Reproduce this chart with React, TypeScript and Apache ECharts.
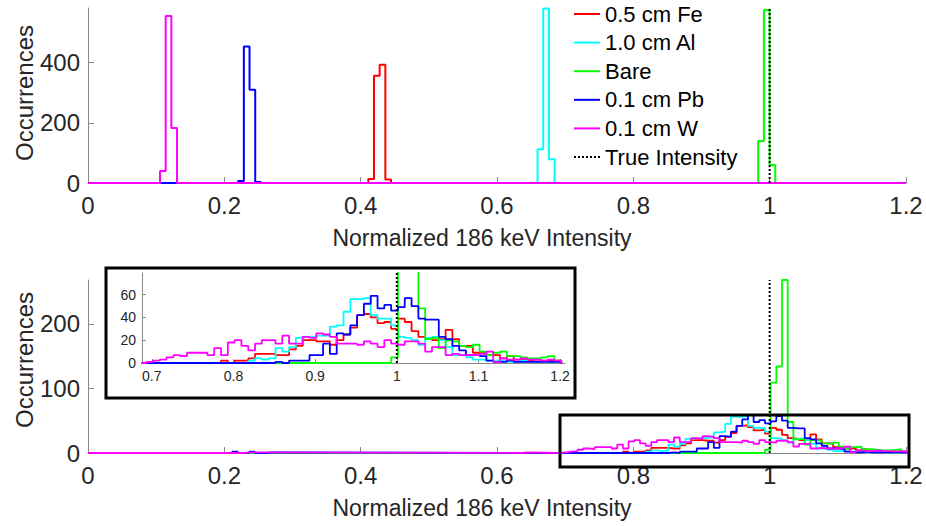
import React, { useEffect, useRef } from "react";
import * as echarts from "echarts";

const FONT = "'Liberation Sans', Arial, Helvetica, sans-serif";

const seriesNames = ["0.5 cm Fe", "1.0 cm Al", "Bare", "0.1 cm Pb", "0.1 cm W"];
const seriesColors = ["#ff0000", "#00ffff", "#00ff00", "#0000ff", "#ff00ff"];
const trueName = "True Intensity";
const trueValue = 1;

const binWidth = 1 / 120;
const xTicks = [0, 0.2, 0.4, 0.6, 0.8, 1, 1.2];
const topYTicks = [0, 200, 400];
const bottomYTicks = [0, 100, 200];
const insetXTicks = [0.7, 0.8, 0.9, 1, 1.1, 1.2];
const insetYTicks = [0, 20, 40, 60];

// Top panel: first bin edge + counts of each narrow histogram
const topFeStart = 0.4112;
const topFeCounts = [13, 357, 393, 12];
const topAlStart = 0.6595;
const topAlCounts = [112, 580, 79];
const topBareStart = 0.9832;
const topBareCounts = [140, 575, 60];
const topPbStart = 0.2203;
const topPbCounts = [7, 454, 310, 3];
const topWStart = 0.1056;
const topWCounts = [40, 555, 183];

// Bottom panel: shared first bin edge, 61 bins
const bottomStart = 0.6931;
const bottomFeCounts = [
  0, 0, 0, 0, 0, 0, 0, 0, 0, 0, 0, 2, 0, 2, 2, 4, 8, 8, 8, 7, 7,
  12, 15, 20, 20, 19, 19, 16, 20, 25, 31, 42, 43, 40, 35, 36, 30, 39, 36, 28, 23,
  22, 20, 21, 29, 21, 15, 15, 9, 9, 7, 7, 4, 6, 3, 3, 2, 3, 2, 2, 2,
];
const bottomAlCounts = [
  0, 0, 0, 0, 0, 0, 0, 0, 0, 0, 0, 0, 0, 0, 0, 2, 4, 3, 4, 13, 10,
  14, 22, 23, 23, 24, 24, 32, 33, 45, 56, 56, 57, 42, 39, 39, 33, 23, 22, 20, 16,
  22, 23, 20, 14, 7, 7, 5, 3, 3, 2, 2, 2, 1, 1, 2, 1, 1, 1, 1, 1,
];
const bottomBareCounts = [
  0, 0, 0, 0, 0, 0, 0, 0, 0, 0, 0, 0, 0, 0, 0, 0, 0, 0, 0, 0, 0,
  0, 0, 0, 0, 0, 0, 0, 0, 0, 0, 0, 0, 0, 0, 0, 5, 109, 134, 268, 48,
  21, 22, 13, 20, 19, 15, 14, 16, 10, 7, 9, 10, 6, 6, 5, 4, 4, 5, 6, 2,
];
const bottomPbCounts = [
  0, 0, 0, 0, 0, 0, 0, 0, 0, 0, 0, 0, 0, 0, 0, 0, 0, 0, 0, 1, 0,
  2, 2, 2, 7, 7, 17, 8, 26, 25, 33, 42, 52, 59, 48, 51, 46, 49, 57, 50, 39,
  38, 38, 23, 21, 15, 11, 7, 7, 6, 2, 1, 1, 2, 1, 1, 1, 1, 1, 1, 1,
];
const bottomWCounts = [
  1, 2, 3, 5, 7, 6, 9, 9, 9, 7, 13, 7, 18, 20, 15, 11, 17, 20, 20, 17, 24,
  17, 17, 23, 22, 26, 25, 23, 17, 17, 17, 16, 19, 17, 14, 20, 17, 16, 19, 19, 17,
  10, 14, 14, 7, 8, 7, 7, 7, 8, 10, 1, 4, 3, 3, 4, 3, 3, 2, 3, 2,
];
// isolated low-intensity bins (bin start, count)
const bottomPbOutliers: [number, number][] = [[0.2115, 2], [0.2365, 2], [0.2615, 1]];
const bottomWOutliers: [number, number][] = [[0.2282, 1], [0.6365, 1]];

function stairs(runs: { start: number; counts: number[] }[], xmin: number, xmax: number) {
  const pts: number[][] = [[xmin, 0]];
  const sorted = [...runs].sort((a, b) => a.start - b.start);
  for (const r of sorted) {
    let e = r.start;
    pts.push([e, 0]);
    for (const c of r.counts) {
      pts.push([e, c]);
      e += binWidth;
      pts.push([e, c]);
    }
    pts.push([e, 0]);
  }
  pts.push([xmax, 0]);
  return pts;
}

const topRuns = [
  [{ start: topFeStart, counts: topFeCounts }],
  [{ start: topAlStart, counts: topAlCounts }],
  [{ start: topBareStart, counts: topBareCounts }],
  [{ start: topPbStart, counts: topPbCounts }],
  [{ start: topWStart, counts: topWCounts }],
];
const bottomRuns = [
  [{ start: bottomStart, counts: bottomFeCounts }],
  [{ start: bottomStart, counts: bottomAlCounts }],
  [{ start: bottomStart, counts: bottomBareCounts }],
  [
    { start: bottomStart, counts: bottomPbCounts },
    ...bottomPbOutliers.map(([s, c]) => ({ start: s, counts: [c] })),
  ],
  [
    { start: bottomStart, counts: bottomWCounts },
    ...bottomWOutliers.map(([s, c]) => ({ start: s, counts: [c] })),
  ],
];

const axisGray = "#8a8a8a";
const labelColor = "#262626";

function xAxisMain(gridIndex: number) {
  return {
    type: "value",
    gridIndex,
    min: 0,
    max: 1.2,
    interval: 0.2,
    name: "Normalized 186 keV Intensity",
    nameLocation: "middle",
    nameGap: 43,
    nameTextStyle: { fontSize: 23, color: labelColor, fontFamily: FONT, padding: [0, 30, 0, 0] },
    axisLine: { show: true, onZero: false, lineStyle: { color: axisGray, width: 1 } },
    axisTick: { show: true, inside: true, length: 6, lineStyle: { color: axisGray }, customValues: xTicks },
    axisLabel: { fontSize: 24, color: labelColor, fontFamily: FONT, margin: 10, customValues: xTicks },
    splitLine: { show: false },
  };
}
function yAxisMain(gridIndex: number, max: number, ticks: number[]) {
  return {
    type: "value",
    gridIndex,
    min: 0,
    max,
    axisLine: { show: true, onZero: false, lineStyle: { color: axisGray, width: 1 } },
    axisTick: { show: true, inside: true, length: 6, lineStyle: { color: axisGray }, customValues: ticks },
    axisLabel: { fontSize: 24, color: labelColor, fontFamily: FONT, margin: 8, customValues: ticks },
    splitLine: { show: false },
  };
}

export default function App() {
  const ref = useRef<HTMLDivElement>(null);
  useEffect(() => {
    if (!ref.current) return;
    const chart = echarts.init(ref.current, undefined, { renderer: "svg" });
    const topMax = 582;
    const bottomMax = 268;
    const insetMax = 79;
    const insetMin = 0.688;
    const insetXMax = 1.206;

    const series: any[] = [];
    const addPanel = (runsList: any[], xi: number, yMax: number, xmin: number, xmax: number, lw: number) => {
      runsList.forEach((runs, i) => {
        series.push({
          type: "line",
          name: seriesNames[i],
          xAxisIndex: xi,
          yAxisIndex: xi,
          data: stairs(runs, xmin, xmax),
          showSymbol: false,
          symbol: "none",
          clip: true,
          color: seriesColors[i],
          lineStyle: { color: seriesColors[i], width: lw },
          silent: true,
        });
      });
      series.push({
        type: "line",
        name: trueName,
        xAxisIndex: xi,
        yAxisIndex: xi,
        data: [[trueValue, 0], [trueValue, yMax]],
        symbol: "none",
        color: "#000",
        lineStyle: { color: "#000", width: 2, type: [2, 2] },
        silent: true,
      });
    };
    addPanel(topRuns, 0, topMax, 0, 1.2, 2);
    addPanel(bottomRuns, 1, bottomMax, 0, 1.2, 1.8);
    addPanel(bottomRuns, 2, insetMax, 0, 1.2, 1.8);

    chart.setOption({
      animation: false,
      backgroundColor: "#fff",
      textStyle: { fontFamily: FONT },
      grid: [
        { left: 88, top: 8, width: 818, height: 175 },
        { left: 88, top: 280, width: 818, height: 173 },
        { left: 142, top: 273, width: 423, height: 90 },
      ],
      xAxis: [
        xAxisMain(0),
        xAxisMain(1),
        {
          type: "value",
          gridIndex: 2,
          min: insetMin,
          max: insetXMax,
          axisLine: { show: true, onZero: false, lineStyle: { color: axisGray } },
          axisTick: { show: true, inside: true, length: 4, lineStyle: { color: axisGray }, customValues: insetXTicks },
          axisLabel: { fontSize: 14, color: labelColor, fontFamily: FONT, margin: 6, customValues: insetXTicks },
          splitLine: { show: false },
        },
      ],
      yAxis: [
        yAxisMain(0, topMax, topYTicks),
        yAxisMain(1, bottomMax, bottomYTicks),
        {
          type: "value",
          gridIndex: 2,
          min: 0,
          max: insetMax,
          axisLine: { show: true, onZero: false, lineStyle: { color: axisGray } },
          axisTick: { show: true, inside: true, length: 4, lineStyle: { color: axisGray }, customValues: insetYTicks },
          axisLabel: { fontSize: 14, color: labelColor, fontFamily: FONT, margin: 6, customValues: insetYTicks },
          splitLine: { show: false },
        },
      ],
      legend: {
        orient: "vertical",
        left: 568,
        top: -2,
        itemWidth: 26,
        itemHeight: 14,
        itemGap: 6.6,
        selectedMode: false,
        itemStyle: { opacity: 0 },
        textStyle: { fontSize: 22, color: "#000", fontFamily: FONT, lineHeight: 22 },
        data: [...seriesNames, trueName],
      },
      graphic: [
        {
          type: "text",
          x: 24,
          y: 93,
          rotation: Math.PI / 2,
          style: { text: "Occurrences", fontSize: 24, fill: labelColor, fontFamily: FONT, align: "center", verticalAlign: "middle" },
        },
        {
          type: "text",
          x: 24,
          y: 360,
          rotation: Math.PI / 2,
          style: { text: "Occurrences", fontSize: 24, fill: labelColor, fontFamily: FONT, align: "center", verticalAlign: "middle" },
        },
        {
          type: "rect",
          shape: { x: 106, y: 268, width: 469, height: 130 },
          style: { fill: "none", stroke: "#000", lineWidth: 3 },
          z: 100,
        },
        {
          type: "rect",
          shape: { x: 560, y: 415, width: 349, height: 52 },
          style: { fill: "none", stroke: "#000", lineWidth: 3 },
          z: 100,
        },
      ],
      series,
    });
    return () => chart.dispose();
  }, []);
  return <div ref={ref} style={{ width: 926, height: 527, position: "absolute", left: 0, top: 0 }} />;
}
